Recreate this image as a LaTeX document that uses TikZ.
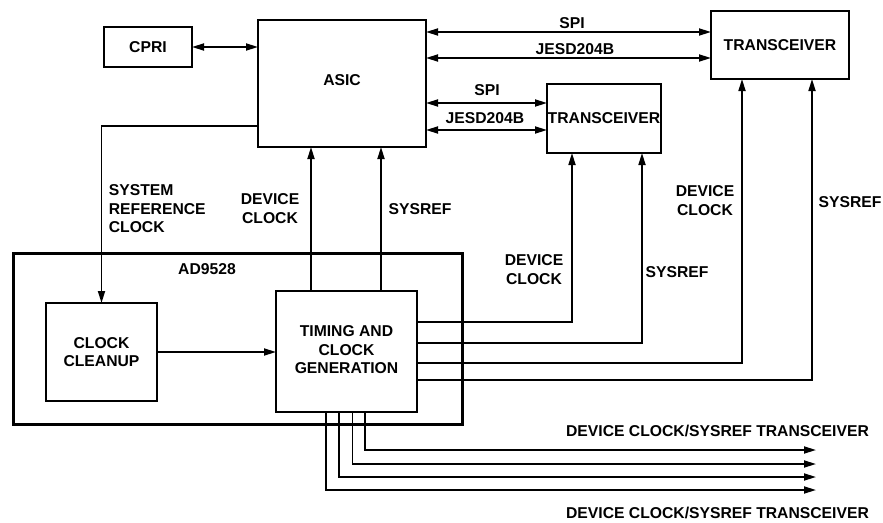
\documentclass[tikz,border=0pt]{standalone}
\usepackage{fontspec}
\setmainfont{Liberation Sans}
\usetikzlibrary{arrows.meta,calc}
\begin{document}
\begin{tikzpicture}[x=1pt,y=-1pt,
  line width=1.7pt,
  font=\fontsize{15.7}{18.5}\selectfont\bfseries,
  box/.style={draw,line width=1.7pt,inner sep=0pt,outer sep=0pt,align=center},
  lbl/.style={inner sep=0pt,align=center},
  lbll/.style={inner sep=0pt,align=left,anchor=west},
  arr/.style={-{Triangle[length=12pt,width=7pt]}},
  darr/.style={{Triangle[length=12pt,width=7pt]}-{Triangle[length=12pt,width=7pt]}},
]
\useasboundingbox (0,0) rectangle (883,522);

% blocks
\node[box,minimum width=88pt,minimum height=40pt] (cpri) at (148,47) {CPRI};
\node[box,minimum width=168pt,minimum height=127pt] (asic) at (342,83.5) {\raisebox{7pt}{ASIC}};
\node[box,minimum width=138pt,minimum height=68pt] (tr1) at (780,45) {TRANSCEIVER};
\node[box,minimum width=114pt,minimum height=69pt] (tr2) at (604,118.5) {TRANSCEIVER};
\node[box,line width=3pt,minimum width=449pt,minimum height=171pt] (ad) at (237.5,338.5) {};
\node[lbl] (adl) at (207,269) {AD9528};
\node[box,minimum width=111pt,minimum height=98pt] (cc) at (101.5,352) {CLOCK\\CLEANUP};
\node[box,minimum width=141pt,minimum height=121pt] (tcg) at (346.5,351.5) {\raisebox{7pt}{\begin{tabular}{@{}c@{}}TIMING AND\\CLOCK\\GENERATION\end{tabular}}};

% helper levels
\coordinate (ys1) at (0,32);
\coordinate (yj1) at (0,58);
\coordinate (ys2) at (0,103);
\coordinate (yj2) at (0,130);
\coordinate (yref) at (0,126);
\coordinate (xdc) at (311,0);
\coordinate (xsr) at (381,0);
\coordinate (o1) at (0,322);
\coordinate (o2) at (0,343);
\coordinate (o3) at (0,363);
\coordinate (o4) at (0,380);
\coordinate (x1) at (572,0);
\coordinate (x2) at (642,0);
\coordinate (x3) at (742,0);
\coordinate (x4) at (812,0);
\coordinate (b1) at (365,0);
\coordinate (b2) at (352.5,0);
\coordinate (b3) at (339,0);
\coordinate (b4) at (326,0);
\coordinate (e1) at (816,450);
\coordinate (e2) at (816,464);
\coordinate (e3) at (816,477);
\coordinate (e4) at (816,490);

% connectors
\draw[darr] (cpri.east) -- (cpri.east -| asic.west);
\draw[darr] (asic.east |- ys1) -- (tr1.west |- ys1);
\draw[darr] (asic.east |- yj1) -- (tr1.west |- yj1);
\draw[darr] (asic.east |- ys2) -- (tr2.west |- ys2);
\draw[darr] (asic.east |- yj2) -- (tr2.west |- yj2);
\draw[arr] (asic.west |- yref) -| (cc.north);
\draw[arr] (tcg.north -| xdc) -- (asic.south -| xdc);
\draw[arr] (tcg.north -| xsr) -- (asic.south -| xsr);
\draw[arr] (cc.east) -- (tcg.west |- cc.east);
\draw[arr] (tcg.east |- o1) -| (tr2.south -| x1);
\draw[arr] (tcg.east |- o2) -| (tr2.south -| x2);
\draw[arr] (tcg.east |- o3) -| (tr1.south -| x3);
\draw[arr] (tcg.east |- o4) -| (tr1.south -| x4);
\draw[arr] (tcg.south -| b1) |- (e1);
\draw[arr] (tcg.south -| b2) |- (e2);
\draw[arr] (tcg.south -| b3) |- (e3);
\draw[arr] (tcg.south -| b4) |- (e4);

% labels
\node[lbl] (l1) at (572,23) {SPI};
\node[lbl] (l2) at (575,49) {JESD204B};
\node[lbl] (l3) at (487,90) {SPI};
\node[lbl] (l4) at (485,118) {JESD204B};
\node[lbll] (l5) at (108,209) {SYSTEM\\REFERENCE\\CLOCK};
\node[lbl] (l6) at (270,208.5) {DEVICE\\CLOCK};
\node[lbl] (l7) at (420,209) {SYSREF};
\node[lbl] (l8) at (534,269.5) {DEVICE\\CLOCK};
\node[lbl] (l9) at (677,272) {SYSREF};
\node[lbl] (l10) at (705,200.5) {DEVICE\\CLOCK};
\node[lbl] (l11) at (850,202) {SYSREF};
\node[lbl] (l12) at (717.5,431) {DEVICE CLOCK/SYSREF TRANSCEIVER};
\node[lbl] (l13) at (717.5,513) {DEVICE CLOCK/SYSREF TRANSCEIVER};
\end{tikzpicture}
\end{document}
